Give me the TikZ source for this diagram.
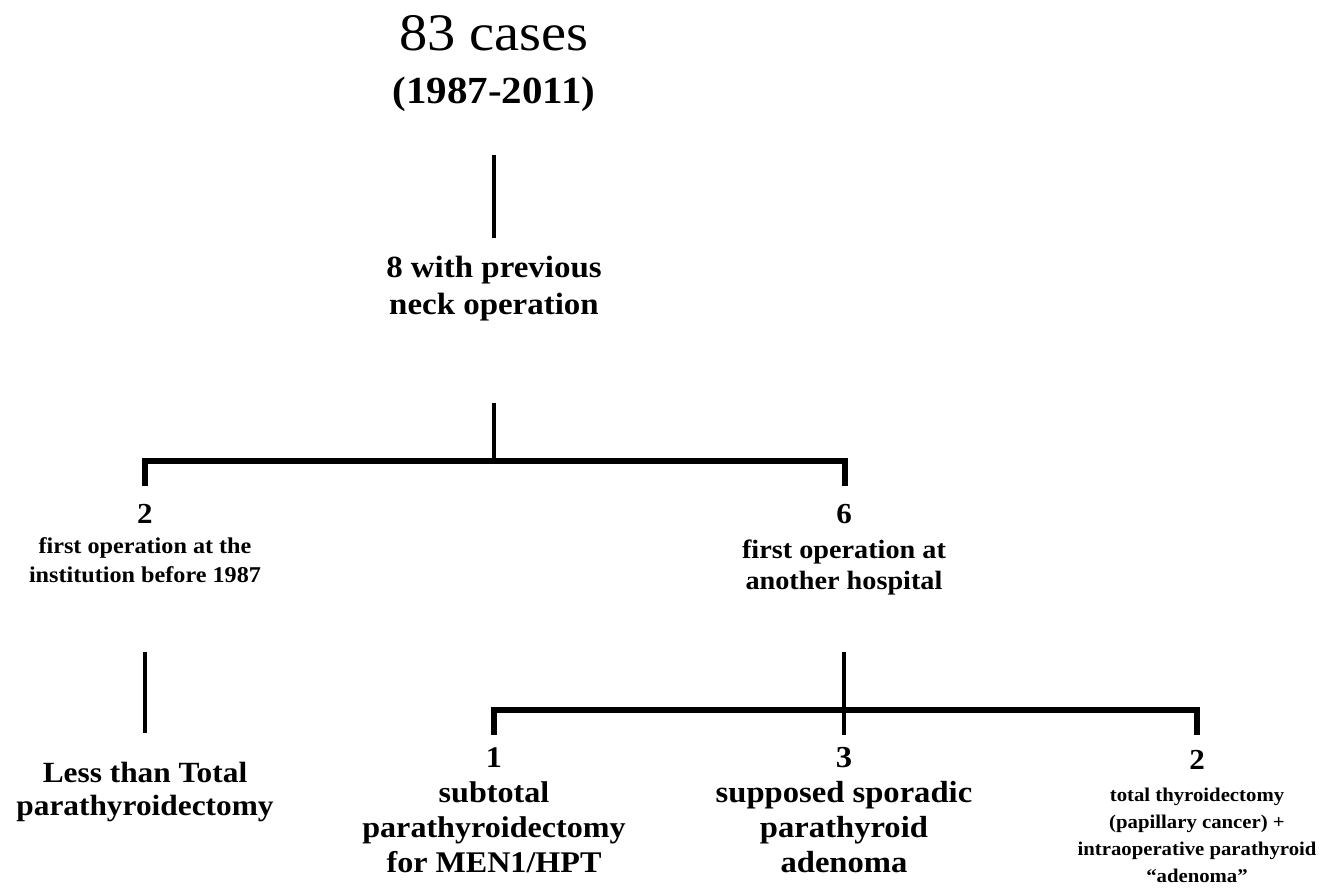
\documentclass[tikz,border=0pt]{standalone}
\usepackage{fontspec}
\setmainfont{Liberation Serif}[FakeStretch=1.07]
\usepackage{tikz}
\usetikzlibrary{positioning}

\tikzset{
  lbl/.style={align=center, inner sep=0pt, anchor=base},
  vbar/.style={line width=4.5pt},
  hbar/.style={line width=6pt},
}
\newcommand{\fsz}[2]{\fontsize{#1}{#2}\selectfont}

\begin{document}
\begin{tikzpicture}[x=1pt, y=-1pt]
  \useasboundingbox (0,0) rectangle (1336,887);

  % Nodes
  \node at (494,103) (cases) [lbl, font=\fsz{52.7}{53}] {83 cases\\{\bfseries\fsz{38.3}{53}(1987-2011)}};
  \node at (494,314) (prev) [lbl, font=\bfseries\fsz{30.8}{37}] {8 with previous\\neck operation};
  \node at (145,582) (inst) [lbl, font=\bfseries\fsz{22.6}{29}] {{\fsz{29}{29}2}\\[1pt]first operation at the\\institution before 1987};
  \node at (844,589) (other) [lbl, font=\bfseries\fsz{26.4}{31}] {{\fsz{29}{31}6}\\[4pt]first operation at\\another hospital};
  \node at (145,815) (lessthan) [lbl, font=\bfseries\fsz{29.3}{33}] {Less than Total\\parathyroidectomy};
  \node at (494,872) (men) [lbl, font=\bfseries\fsz{30}{35}] {1\\subtotal\\parathyroidectomy\\for MEN1/HPT};
  \node at (844,872) (sporadic) [lbl, font=\bfseries\fsz{30.5}{35}] {3\\supposed sporadic\\parathyroid\\adenoma};
  \node at (1197,882) (thyroid) [lbl, font=\bfseries\fsz{19.4}{27}] {{\fsz{29}{27}2}\\[5pt]total thyroidectomy\\(papillary cancer) +\\intraoperative parathyroid\\“adenoma”};

  % Line ends
  \coordinate (a1) at (494,155);
  \coordinate (a2) at (494,238);
  \coordinate (b1) at (494,403);
  \coordinate (b2) at (494,461);
  \coordinate (bl) at (145,461);
  \coordinate (blf) at (145,486);
  \coordinate (br) at (845,461);
  \coordinate (brf) at (845,486);
  \coordinate (c1) at (145,652);
  \coordinate (c2) at (145,733);
  \coordinate (d1) at (844,652);
  \coordinate (d2) at (844,735);
  \coordinate (dl) at (494,710);
  \coordinate (dlf) at (494,735);
  \coordinate (dr) at (1197,710);
  \coordinate (drf) at (1197,735);

  % Lines
  \draw[vbar] (a1) -- (a2);
  \draw[vbar] (b1) -- (b2);
  \draw[hbar] (blf) -- (bl) -- (br) -- (brf);
  \draw[vbar] (c1) -- (c2);
  \draw[vbar] (d1) -- (d2);
  \draw[hbar] (dlf) -- (dl) -- (dr) -- (drf);
\end{tikzpicture}
\end{document}
